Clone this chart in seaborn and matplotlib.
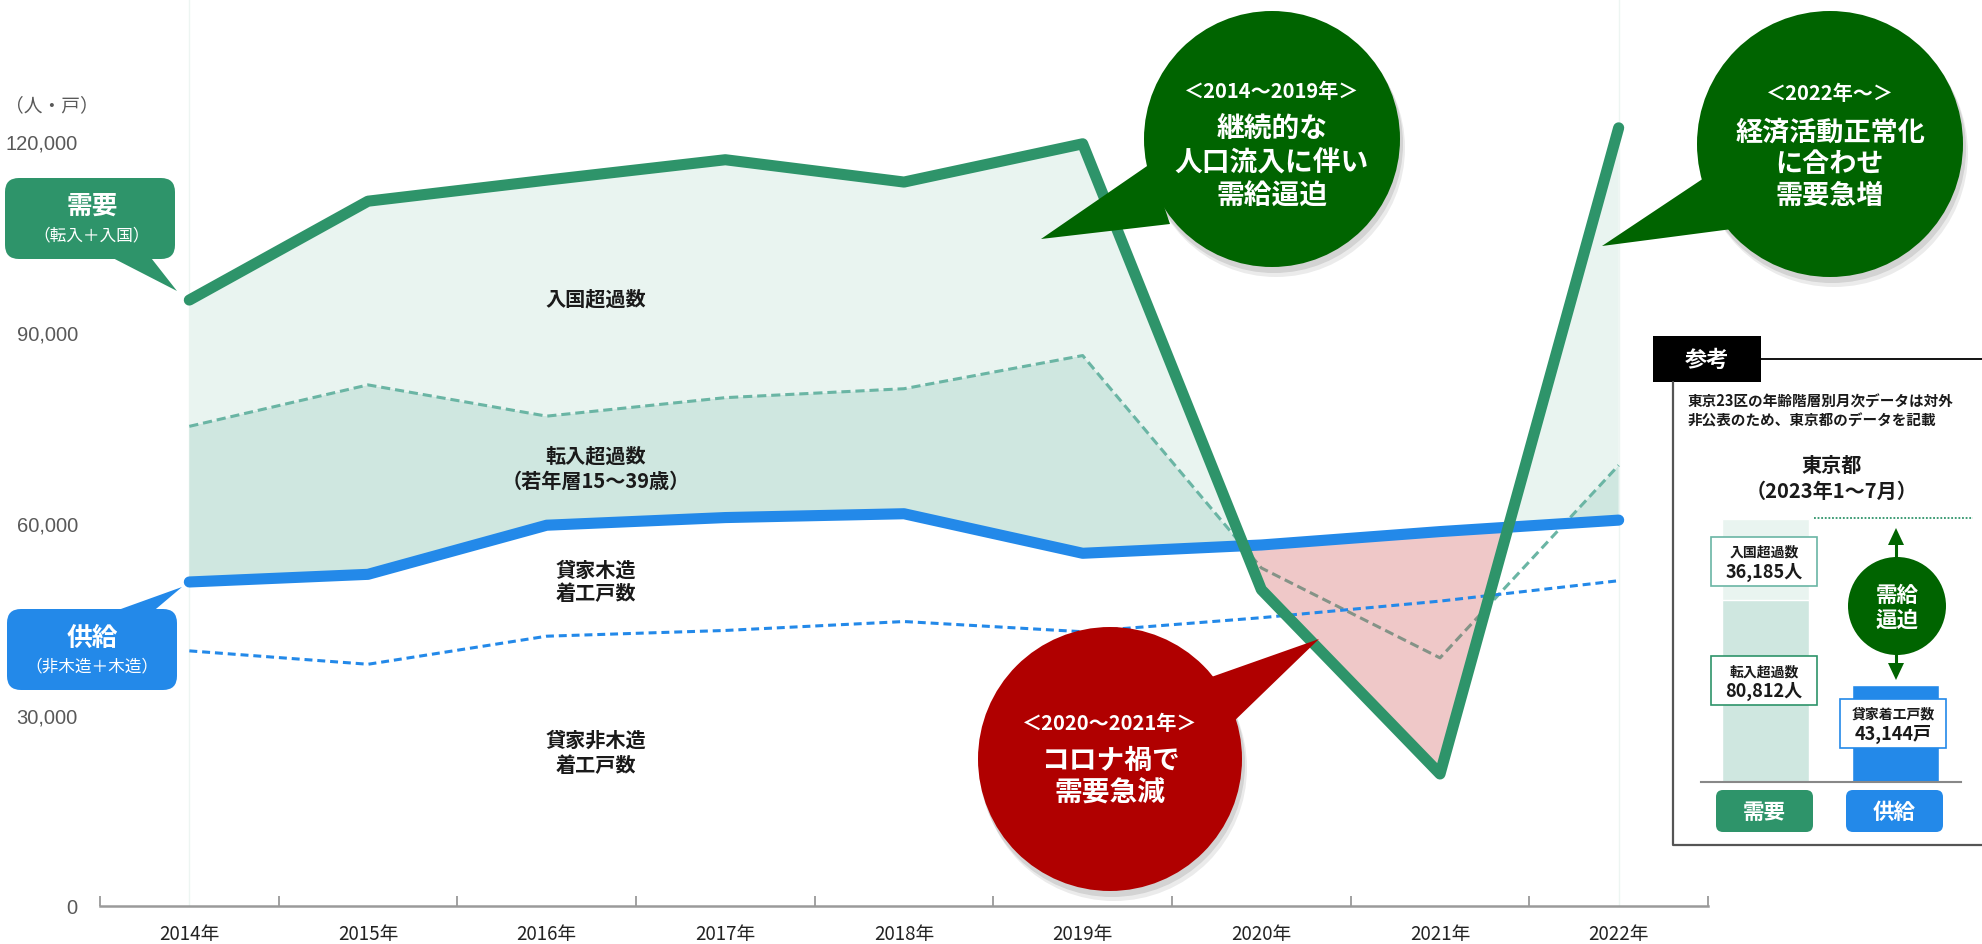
import numpy as np
import pandas as pd
import matplotlib
matplotlib.use("Agg")
import matplotlib.pyplot as plt
import seaborn as sns
from matplotlib.patches import Circle, Polygon, FancyBboxPatch, Rectangle

# ---------------- data ----------------
years = ["2014年", "2015年", "2016年", "2017年", "2018年", "2019年", "2020年", "2021年", "2022年"]
demand = [95000, 110500, 113800, 117000, 113500, 119500, 49600, 20700, 122000]        # 需要（転入＋入国）
transfer_top = [75200, 81700, 76800, 79700, 81100, 86300, 53000, 38900, 69100]  # 転入超過数の上端
supply = [50800, 52000, 59700, 60900, 61500, 55300, 56600, 58700, 60500]        # 供給（非木造＋木造）
non_wooden = [40000, 37900, 42300, 43200, 44600, 43000, 45200, 47800, 51000]    # 貸家非木造着工戸数
yticks = [0, 30000, 60000, 90000, 120000]

inset_cats = ["需要", "供給"]
inset_transfer = 80812
inset_immigration = 36185
inset_supply = 43144

# ---------------- style ----------------
sns.set_theme(style="white")
plt.rcParams["font.family"] = ["Noto Sans CJK JP", "DejaVu Sans"]

GREEN = "#2e946a"
BLUE = "#2389e9"
DKGREEN = "#006400"
RED = "#b00000"
LIGHT = "#e9f4f0"
DARK = "#cfe7e0"
TEAL = "#6ab5a4"

W, H = 1983, 945
fig = plt.figure(figsize=(W / 100, H / 100), dpi=100)
fig.patch.set_facecolor("white")

ax_left, ax_right, ax_bottom = 100, 1708, 907
px_per_unit = 765.4 / 120000
ymax = ax_bottom / px_per_unit
ax = fig.add_axes([ax_left / W, (H - ax_bottom) / H, (ax_right - ax_left) / W, ax_bottom / H])
ax.set_zorder(1)
ax.patch.set_alpha(0)

xi = np.arange(len(years))
df = pd.DataFrame({"x": xi, "demand": demand, "transfer_top": transfer_top,
                   "supply": supply, "non_wooden": non_wooden})

# fills (dense grid along the same straight segments)
xd = np.linspace(0, len(years) - 1, 4001)
d = np.interp(xd, xi, demand)
t = np.interp(xd, xi, transfer_top)
s = np.interp(xd, xi, supply)
dark_top = np.minimum(t, d)
ax.fill_between(xd, s, dark_top, where=dark_top > s, interpolate=True, color=DARK, lw=0, zorder=1)
light_bot = np.maximum(s, t)
ax.fill_between(xd, light_bot, d, where=d > light_bot, interpolate=True, color=LIGHT, lw=0, zorder=1)
ax.axvline(0, color="#edf5f2", lw=1, zorder=0.5)
ax.axvline(len(years) - 1, color="#edf5f2", lw=1, zorder=0.5)

sns.lineplot(data=df, x="x", y="transfer_top", ax=ax, color=TEAL, lw=2.2,
             linestyle=(0, (3, 1.6)), zorder=2)
ax.fill_between(xd, d, s, where=d < s, interpolate=True, color="#c83c3c", alpha=0.28, lw=0, zorder=3)
sns.lineplot(data=df, x="x", y="non_wooden", ax=ax, color=BLUE, lw=2.2,
             linestyle=(0, (2.6, 1.6)), zorder=4)
sns.lineplot(data=df, x="x", y="supply", ax=ax, color=BLUE, lw=8,
             solid_capstyle="round", zorder=5)
sns.lineplot(data=df, x="x", y="demand", ax=ax, color=GREEN, lw=8,
             solid_capstyle="round", zorder=6)

ax.set_xlim(-0.5, len(years) - 0.5)
ax.set_ylim(0, ymax)
ax.set_xlabel("")
ax.set_ylabel("")
ax.set_xticks(np.arange(-0.5, len(years), 1))
ax.set_xticklabels([])
ax.set_xticks(xi, minor=True)
ax.set_xticklabels(years, minor=True, fontsize=13.5, color="#222222")
ax.tick_params(axis="x", which="minor", length=0, pad=12)
ax.tick_params(axis="x", which="major", direction="in", length=7, width=1.3, color="#9a9a9a", bottom=True)
ax.set_yticks(yticks)
ax.set_yticklabels([f"{v:,}" for v in yticks], fontsize=14.5, color="#595959", family="Liberation Sans")
ax.tick_params(axis="y", length=0, pad=16)
for sp in ["top", "right", "left"]:
    ax.spines[sp].set_visible(False)
ax.spines["bottom"].set_color("#9a9a9a")
ax.spines["bottom"].set_linewidth(1.8)
ax.grid(False)

# ---------------- inset bars ----------------
base_y = 783
inset_h = 300
iax = fig.add_axes([1700.5 / W, (H - base_y) / H, 260 / W, inset_h / H])
iax.set_zorder(2)
iax.patch.set_alpha(0)
sns.barplot(x=inset_cats, y=[inset_transfer + inset_immigration, inset_supply], hue=inset_cats,
            palette=[LIGHT, BLUE], width=0.67, saturation=1, legend=False, ax=iax)
sns.barplot(x=["需要"], y=[inset_transfer], order=inset_cats, color=DARK, width=0.67,
            saturation=1, ax=iax)
iax.set_xlim(-0.5, 1.5)
iax.set_ylim(0, inset_h / 263 * (inset_transfer + inset_immigration))
iax.set_xticks([])
iax.set_yticks([])
iax.set_xlabel("")
iax.set_ylabel("")
for sp in ["top", "right", "left"]:
    iax.spines[sp].set_visible(False)
iax.spines["bottom"].set_color("#888888")
iax.spines["bottom"].set_linewidth(1.5)

# ---------------- overlay (pixel coords) ----------------
ov = fig.add_axes([0, 0, 1, 1])
ov.set_zorder(3)
ov.set_xlim(0, W)
ov.set_ylim(H, 0)
ov.axis("off")
ov.patch.set_alpha(0)


def T(x, y, txt, size, color="white", weight="bold", ha="center"):
    ov.text(x, y, txt, fontsize=size, color=color, fontweight=weight, ha=ha, va="center")


def bubble(cx, cy, r, color, tail):
    for off, a in [((4, 9), 0.08), ((2, 5), 0.10)]:
        ov.add_patch(Circle((cx + off[0], cy + off[1]), r + 1, color="black", alpha=a, lw=0))
    ov.add_patch(Polygon(tail, closed=True, color=color, lw=0))
    ov.add_patch(Circle((cx, cy), r, color=color, lw=0))


# axis unit
T(52, 106, "（人・戸）", 13.5, color="#595959", weight="normal")

# area labels
T(596, 299, "入国超過数", 14.5, color="#1a1a1a")
T(596, 456, "転入超過数", 14.5, color="#1a1a1a")
T(596, 481, "（若年層15～39歳）", 14.5, color="#1a1a1a")
T(596, 570, "貸家木造", 14.5, color="#1a1a1a")
T(596, 594, "着工戸数", 14.5, color="#1a1a1a")
T(596, 740, "貸家非木造", 14.5, color="#1a1a1a")
T(596, 766, "着工戸数", 14.5, color="#1a1a1a")

# left callouts
ov.add_patch(Polygon([(105, 255), (177, 292), (148, 255)], closed=True, color=GREEN, lw=0))
ov.add_patch(FancyBboxPatch((5, 179), 170, 81, boxstyle="round,pad=0,rounding_size=14", color=GREEN, lw=0))
T(92, 206, "需要", 18.5)
T(92, 236, "（転入＋入国）", 12, weight="normal")

ov.add_patch(Polygon([(107, 615), (182, 588), (150, 615)], closed=True, color=BLUE, lw=0))
ov.add_patch(FancyBboxPatch((7, 610), 170, 81, boxstyle="round,pad=0,rounding_size=14", color=BLUE, lw=0))
T(92, 638, "供給", 18.5)
T(92, 667, "（非木造＋木造）", 12, weight="normal")

# speech bubbles
bubble(1272, 140, 128, DKGREEN, [(1150, 165), (1041, 240), (1170, 225)])
T(1272, 91, "＜2014～2019年＞", 14.5)
T(1272, 129, "継続的な", 20)
T(1272, 163, "人口流入に伴い", 20)
T(1272, 197, "需給逼迫", 20)

bubble(1830, 145, 133, DKGREEN, [(1710, 175), (1602, 247), (1732, 230)])
T(1830, 93, "＜2022年～＞", 14.5)
T(1830, 133, "経済活動正常化", 19.5)
T(1830, 164, "に合わせ", 19.5)
T(1830, 196, "需要急増", 19.5)

bubble(1110, 760, 132, RED, [(1200, 682), (1319, 640), (1228, 728)])
T(1110, 723, "＜2020～2021年＞", 14.5)
T(1110, 761, "コロナ禍で", 20)
T(1110, 794, "需要急減", 20)

# inset frame
ov.add_patch(Rectangle((1653, 337), 108, 46, color="black", lw=0))
T(1707, 360, "参考", 16)
ov.plot([1761, 1983], [360, 360], color="black", lw=1.3)
ov.plot([1673, 1673, 1983], [383, 846, 846], color="#555555", lw=1.6)
T(1688, 402, "東京23区の年齢階層別月次データは対外", 10.5, color="#1a1a1a", ha="left")
T(1688, 421, "非公表のため、東京都のデータを記載", 10.5, color="#1a1a1a", ha="left")
T(1832, 465, "東京都", 14.5, color="#1a1a1a")
T(1832, 491, "（2023年1～7月）", 14.5, color="#1a1a1a")
ov.plot([1814, 1973], [519, 519], color=GREEN, lw=1.3, linestyle=(0, (1, 1)))

# arrow + circle
ov.plot([1896, 1896], [540, 670], color=DKGREEN, lw=2.2)
ov.add_patch(Polygon([(1896, 529), (1888, 546), (1904, 546)], closed=True, color=DKGREEN, lw=0))
ov.add_patch(Polygon([(1896, 681), (1888, 664), (1904, 664)], closed=True, color=DKGREEN, lw=0))
ov.add_patch(Circle((1897, 607), 49, color=DKGREEN, lw=0))
T(1897, 595, "需給", 15.5)
T(1897, 620, "逼迫", 15.5)

# value boxes
for (x0, y0, ec, l1, l2) in [(1711, 538, TEAL, "入国超過数", f"{inset_immigration:,}人"),
                              (1711, 657, GREEN, "転入超過数", f"{inset_transfer:,}人"),
                              (1840, 700, BLUE, "貸家着工戸数", f"{inset_supply:,}戸")]:
    ov.add_patch(Rectangle((x0, y0), 106, 49, facecolor="white", edgecolor=ec, lw=1.2))
    T(x0 + 53, y0 + 15, l1, 10, color="#1a1a1a")
    T(x0 + 53, y0 + 34, l2, 13, color="#1a1a1a")

# bottom buttons
ov.add_patch(FancyBboxPatch((1716, 791), 97, 42, boxstyle="round,pad=0,rounding_size=7", color=GREEN, lw=0))
T(1764.5, 812, inset_cats[0], 15.5)
ov.add_patch(FancyBboxPatch((1846, 791), 97, 42, boxstyle="round,pad=0,rounding_size=7", color=BLUE, lw=0))
T(1894.5, 812, inset_cats[1], 15.5)

fig.savefig("out.png", dpi=100, facecolor="white")
